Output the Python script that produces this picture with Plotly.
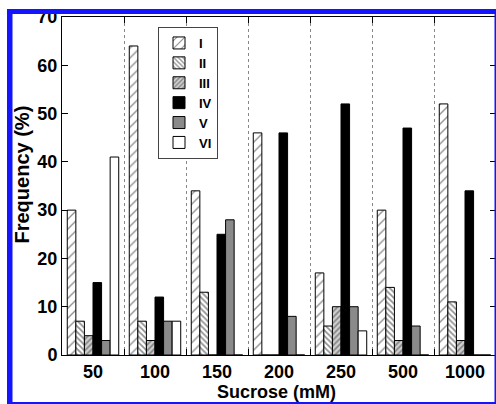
import plotly.graph_objects as go

# ---- data ----
categories = ["50", "100", "150", "200", "250", "500", "1000"]
series_names = ["I", "II", "III", "IV", "V", "VI"]
val_I = [30, 64, 34, 46, 17, 30, 52]
val_II = [7, 7, 13, 0, 6, 14, 11]
val_III = [4, 3, 0, 0, 10, 3, 3]
val_IV = [15, 12, 25, 46, 52, 47, 34]
val_V = [3, 7, 28, 8, 10, 6, 0]
val_VI = [41, 7, 0, 0, 5, 0, 0]
y_ticks = [0, 10, 20, 30, 40, 50, 60, 70]

W, H = 496, 404
ML, MR, MT, MB = 62, 0, 17, 49
PW, PH = W - ML - MR, H - MT - MB


def px(x):
    return (x - ML) / PW


def py(y):
    return (H - MB - y) / PH


FONT = "Liberation Sans"

styles = [
    dict(color="white", pattern=dict(shape="/", fgcolor="#222", bgcolor="white", size=7, solidity=0.2)),
    dict(color="white", pattern=dict(shape="\\", fgcolor="#222", bgcolor="white", size=4, solidity=0.45)),
    dict(color="white", pattern=dict(shape="/", fgcolor="#333", bgcolor="#cfcfcf", size=4, solidity=0.4)),
    dict(color="black"),
    dict(color="#8a8a8a"),
    dict(color="white"),
]
values = [val_I, val_II, val_III, val_IV, val_V, val_VI]

fig = go.Figure()
for name, vals, st in zip(series_names, values, styles):
    marker = dict(st)
    marker["line"] = dict(color="black", width=1)
    fig.add_trace(go.Bar(x=categories, y=vals, name=name, marker=marker))

fig.update_layout(
    width=W, height=H,
    margin=dict(l=ML, r=MR, t=MT, b=MB, pad=0),
    paper_bgcolor="white", plot_bgcolor="white",
    barmode="group", bargap=0.17, bargroupgap=0,
    font=dict(family=FONT, color="black", size=18, weight="bold"),
    showlegend=True,
    legend=dict(
        x=px(158), y=py(27), xanchor="left", yanchor="top",
        bgcolor="white", bordercolor="#444", borderwidth=1,
        font=dict(family=FONT, size=13, weight="bold", color="black"),
        traceorder="normal",
    ),
    xaxis=dict(
        type="category", tickson="boundaries", ticks="inside", ticklen=6,
        tickcolor="black", showline=True, linecolor="black", linewidth=1, mirror="all",
        showgrid=True, gridcolor="#888", griddash="dot", gridwidth=1,
        tickfont=dict(family=FONT, size=18, weight="bold"),
    ),
    yaxis=dict(
        range=[0, 70], tickvals=y_ticks, ticks="inside", ticklen=6, tickcolor="black",
        showline=True, linecolor="black", linewidth=1, mirror="all",
        showgrid=False, zeroline=False,
        tickfont=dict(family=FONT, size=18, weight="bold"),
    ),
    annotations=[
        dict(text="Frequency (%)", xref="paper", yref="paper", x=px(21), y=py(174.5),
             textangle=-90, showarrow=False, xanchor="center", yanchor="middle",
             font=dict(family=FONT, size=20, weight="bold")),
        dict(text="Sucrose (mM)", xref="paper", yref="paper", x=px(276), y=py(392),
             showarrow=False, xanchor="center", yanchor="middle",
             font=dict(family=FONT, size=18, weight="bold")),
    ],
)

blue = "#1414ff"
shapes = [
    # white mask outside the blue frame
    dict(type="rect", xref="paper", yref="paper", x0=px(0), x1=px(7), y0=py(404), y1=py(0),
         fillcolor="white", line_width=0, layer="above"),
    dict(type="rect", xref="paper", yref="paper", x0=px(0), x1=px(496), y0=py(9), y1=py(0),
         fillcolor="white", line_width=0, layer="above"),
    # blue frame
    dict(type="rect", xref="paper", yref="paper", x0=px(7), x1=px(12.5), y0=py(403), y1=py(9),
         fillcolor=blue, line_width=0, layer="above"),
    dict(type="rect", xref="paper", yref="paper", x0=px(7), x1=px(496), y0=py(14), y1=py(9),
         fillcolor=blue, line_width=0, layer="above"),
    dict(type="rect", xref="paper", yref="paper", x0=px(494.5), x1=px(496), y0=py(403), y1=py(9),
         fillcolor=blue, line_width=0, layer="above"),
    dict(type="rect", xref="paper", yref="paper", x0=px(7), x1=px(496), y0=py(404), y1=py(402),
         fillcolor=blue, line_width=0, layer="above"),
]
fig.update_layout(shapes=shapes)

fig.write_html("out.html")
